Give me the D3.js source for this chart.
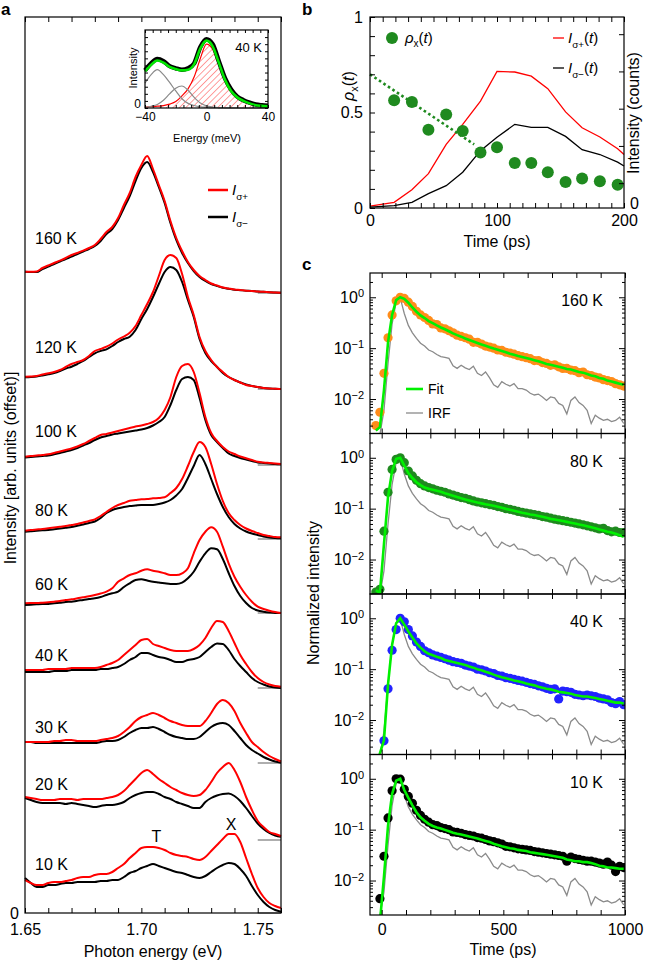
<!DOCTYPE html>
<html><head><meta charset="utf-8">
<script src="https://cdn.jsdelivr.net/npm/d3@7"></script>
<style>body{margin:0;background:#fff}svg{display:block}</style>
</head><body><svg id="fig" width="649" height="963"></svg>
<script>
// ---------------- DATA ----------------
// Panel a: spectra on a 2.5 meV grid from 1.65 to 1.76 eV (45 points), arbitrary units
const tempLabels = ["10 K","20 K","30 K","40 K","60 K","80 K","100 K","120 K","160 K"];
const tempOffsets = [0,73,150,225,300,374,448,524,620];
const spec10Plus  = [33,30,28,28,30,31,31,32,33,35,36,36,38,39,39,41,45,49,55,60,65,66,66,65,63,60,58,57,56,54,53,56,62,68,74,79,79,71,55,39,25,16,10,7,5];
const spec10Minus = [35,30,26,26,28,28,29,30,30,31,31,31,31,32,32,33,33,36,40,42,45,47,49,47,45,43,41,40,38,36,35,37,41,45,48,50,49,44,37,27,18,11,6,3,1.3];
const spec20Plus  = [43,42,41,40,40,40,41,41,41,40,41,41,41,41,42,43,45,49,55,61,67,70,66,61,57,53,50,47,45,44,45,50,58,67,73,77,70,58,43,30,19,13,8,6,4];
const spec20Minus = [42,40,38,37,37,37,37,36,37,36,35,34,33,34,35,35,36,38,42,45,47,48,48,46,43,41,38,36,34,32,32,38,42,44.5,46,46.5,44,39,32,24,16.5,11,7,4.5,3.3];
const spec30Plus  = [21,21,21,21,21,22,22,23,23,22,22,22,22,23,24,25,27,31,36,42,46,48,50,48,45,42,40,38,37,37,37,42,50,59,63,60,52,40,30,21,16,11,7,4,1.5];
const spec30Minus = [21,21,20,20,20,20,20,20,20,20,20,20,20,21,22,22,23,26,30,33,35,35,36,34,31,28,26,25,24,24,26,31,36,39,40,38,32,25,18,13,9.5,6,3.5,1.5,0.3];
const spec40Plus  = [18,18,18,18,19,19,19,19,20,20,20,20,20,21,23,25,28,33,38,43,48,49,44,42,40,38,37,37,37,39,43,50,60,67,66,57,45,33,24,16,10,6,3.5,2,1.3];
const spec40Minus = [16,16,16,16,16,17,17,17,18,18,18,18,18,19,19,20,21,24,28,31,35,35,33,31,30,28,26,26,28,29,31,36,41,44.5,44,38,29,22,16,10,6,3.5,1.5,0.5,0];
const spec60Plus  = [9.7,10,10,10.3,10.7,11.3,12,13,13.7,14.7,15.7,16.7,18,19.5,21.3,24.7,31.3,34.7,38,39.7,42.3,43.7,42.3,41.3,39.7,38,38,39.7,44.7,59.7,73,81.3,85.7,81.3,66.3,49.7,36.3,26.3,18,11.3,6.3,4,2.3,1,0];
const spec60Minus = [8,8.3,8.7,9,9,9.7,10.3,11,11.3,12.3,13,14,14.7,16,18,19.7,21.3,26,29.7,33,33.7,32.5,31.3,30.5,29.7,29,29,30.3,34.7,41.3,51.3,59.7,64.7,63.7,54,40,27,17,10,5,2.5,1.3,0.5,0,0];
const spec80Plus  = [8.3,9,9.5,10,10.7,11.5,12.3,13,14,15,16.5,18,19.7,23,27,31,34,36,38.3,39,39.7,40,40.7,41,41.7,46,51,60,73,87,97,92,75,55,38,26,19,14,10.5,8,6,4,3,2,1.7];
const spec80Minus = [7.3,7.8,8.3,8.7,9,9.7,10.5,11.3,12,13.3,14.5,16,17.5,21,26,29,30.7,32,33,33.5,34,34,34,35,36.5,39,43.5,50,61,73,84,75,60,45,32,22,15,10.5,7.5,5.5,4,2.5,1.5,1,0.7];
const spec100Plus  = [8.3,9,9.5,10,10.7,12,13.5,15,16.5,18.5,21,24,27,30,31,32.5,34,35.5,37,38.5,39.5,41,43,47,55,68,88,99,101,93,72,48,32,24,18,13.5,11,8.5,6.7,5,3.3,2.5,2,1.5,1];
const spec100Minus = [7.5,8,8.5,9,9.5,10.7,12,13.5,15,17,19.5,22,25,27.5,29,30.5,31.5,32.5,33.5,34.5,35.5,37,39.5,43,48,60,75,86,88,85,67,45,30,23,17,11.5,9,7,5.5,4,2.5,2,1.5,1,0.7];
const spec120Plus  = [12.3,12.5,13,14.5,15.7,17,19,22,25,27,29,33,38,40,42.3,45.5,49.5,52.5,56.3,63,74,85,97,113,129,134,131,115,92,74,52,38,29,22,17,12,9,6.5,4,3,2,1,0.5,0.3,0];
const spec120Minus = [11.7,12,12.5,13.5,14.7,16,18,20.5,22.3,25,28,32,35.7,38,39.7,43,47,50,52.3,59,70,80,92,105,117,122,119,107,89,72,50,36,28,22,16,12,9,6.5,4.5,3,2,1,0.5,0.3,0];
const spec160Plus  = [21.3,21.3,21.5,25,27.5,30,32.3,35,38,40,42.3,45,48,54,61,66,75,88,100,116,128,137,124,108,92,72,55,42,31,23,17,13,9.5,7.5,5.5,4.5,3.5,3,2.3,2,1.5,1.2,0.8,0.5,0.3];
const spec160Minus = [21.3,21,21,24,26.3,29,31.5,34,36.3,39,41.5,44,47,52,59,64,73,85,97,112,125,131,121,106,90,70,53,40,30,22,16,12,9,7,5.3,4.3,3.3,2.8,2.3,2,1.5,1.2,0.8,0.5,0.3];
const specPlus  = [spec10Plus,spec20Plus,spec30Plus,spec40Plus,spec60Plus,spec80Plus,spec100Plus,spec120Plus,spec160Plus];
const specMinus = [spec10Minus,spec20Minus,spec30Minus,spec40Minus,spec60Minus,spec80Minus,spec100Minus,spec120Minus,spec160Minus];
const energyTickLabels = [1.65, 1.70, 1.75];

// Inset (40 K fit), 4 meV grid from -40 to 40 meV
const insetData  = [0.53,0.63,0.69,0.66,0.59,0.56,0.54,0.56,0.63,0.86,0.97,0.9,0.66,0.42,0.26,0.16,0.11,0.075,0.05,0.038,0.03];
const insetFit   = [0.515,0.61,0.67,0.64,0.58,0.55,0.53,0.54,0.62,0.84,0.95,0.87,0.64,0.40,0.24,0.15,0.10,0.065,0.04,0.03,0.023];
const insetPeakT1 = [0.35,0.47,0.54,0.47,0.36,0.24,0.13,0.065,0.035,0.018,0.01,0.005,0.003,0.002,0.001,0,0,0,0,0,0];
const insetPeakT2 = [0.01,0.025,0.05,0.11,0.2,0.28,0.31,0.25,0.15,0.07,0.03,0.014,0.006,0.003,0.001,0,0,0,0,0,0];
const insetPeakX  = [0.014,0.02,0.026,0.034,0.055,0.09,0.17,0.27,0.44,0.7,0.9,0.83,0.61,0.4,0.26,0.17,0.113,0.075,0.053,0.04,0.033];

// Panel b
const rhoTimes  = [19,33,46,60,73,87,100,114,127,140,154,167,181,195];
const rhoValues = [0.564,0.555,0.41,0.49,0.403,0.29,0.318,0.236,0.236,0.187,0.136,0.154,0.14,0.122];
const rhoFitTimes  = [0, 82];
const rhoFitValues = [0.70, 0.333];
const intTimes = [0,19,33,46,60,73,87,100,114,127,140,154,167,181,195,200];
const intPlus  = [0.01,0.03,0.096,0.18,0.333,0.438,0.56,0.715,0.712,0.69,0.625,0.503,0.42,0.372,0.31,0.28];
const intMinus = [0.005,0.012,0.03,0.075,0.117,0.187,0.30,0.37,0.438,0.422,0.422,0.375,0.305,0.28,0.24,0.22];
const intensityTicks = [0.13,0.325,0.52,0.715,0.91];

// Panel c: time-resolved decays, 16.7 ps bins starting at -24 ps (62 points)
const irf = [0.0015,0.002,0.006,0.05,0.3,0.8,0.97,0.48,0.28,0.2,0.155,0.125,0.11,0.092,0.085,0.075,0.068,0.066,0.063,0.045,0.04,0.046,0.041,0.038,0.044,0.032,0.029,0.034,0.026,0.019,0.017,0.022,0.0195,0.018,0.02,0.016,0.016,0.015,0.013,0.012,0.0125,0.011,0.0094,0.011,0.0105,0.0082,0.0075,0.0051,0.0094,0.011,0.0085,0.0075,0.006,0.0033,0.0048,0.0042,0.0038,0.004,0.0036,0.0038,0.0044,0.0033];
const decay160 = [0.003,0.0055,0.032,0.16,0.45,0.85,1.0,0.95,0.8,0.66,0.53,0.45,0.40,0.35,0.30,0.29,0.25,0.24,0.22,0.20,0.18,0.17,0.16,0.15,0.13,0.13,0.12,0.11,0.105,0.10,0.092,0.09,0.083,0.08,0.076,0.071,0.068,0.065,0.062,0.057,0.057,0.052,0.05,0.046,0.047,0.043,0.040,0.040,0.037,0.036,0.033,0.034,0.030,0.029,0.027,0.026,0.024,0.023,0.022,0.020,0.019,0.018];
const fit160   = [0.0024,0.0028,0.015,0.13,0.45,0.88,1.0,0.93,0.78,0.63,0.52,0.44,0.39,0.34,0.31,0.28,0.255,0.235,0.215,0.195,0.18,0.168,0.155,0.145,0.135,0.126,0.118,0.111,0.104,0.098,0.093,0.088,0.083,0.078,0.074,0.070,0.067,0.064,0.061,0.058,0.055,0.052,0.049,0.047,0.045,0.043,0.041,0.039,0.038,0.036,0.034,0.033,0.031,0.029,0.028,0.026,0.025,0.023,0.022,0.021,0.020,0.019];
const decay80  = [0.0023,0.0026,0.036,0.21,0.59,0.93,1.0,0.8,0.55,0.44,0.36,0.31,0.28,0.26,0.245,0.23,0.22,0.21,0.195,0.185,0.175,0.165,0.16,0.15,0.142,0.135,0.13,0.125,0.12,0.116,0.11,0.106,0.1,0.097,0.093,0.088,0.085,0.082,0.079,0.076,0.074,0.07,0.068,0.065,0.062,0.06,0.058,0.056,0.054,0.052,0.05,0.048,0.046,0.044,0.042,0.04,0.041,0.037,0.035,0.036,0.034,0.034];
const fit80    = [0.0025,0.0022,0.02,0.17,0.55,0.95,1.0,0.7,0.5,0.4,0.33,0.29,0.26,0.245,0.235,0.225,0.215,0.2,0.19,0.18,0.17,0.16,0.152,0.145,0.138,0.132,0.127,0.122,0.118,0.114,0.109,0.104,0.099,0.095,0.091,0.087,0.083,0.080,0.077,0.075,0.072,0.069,0.066,0.063,0.061,0.059,0.057,0.055,0.053,0.051,0.049,0.047,0.045,0.043,0.041,0.039,0.037,0.035,0.034,0.032,0.030,0.028];
const decay40  = [0.0015,0.0012,0.0039,0.041,0.235,0.6,1.0,0.85,0.6,0.45,0.34,0.28,0.23,0.21,0.19,0.18,0.17,0.16,0.15,0.14,0.135,0.13,0.12,0.115,0.11,0.10,0.097,0.092,0.085,0.082,0.075,0.073,0.068,0.066,0.063,0.06,0.058,0.055,0.052,0.05,0.047,0.045,0.042,0.04,0.041,0.026,0.037,0.036,0.035,0.032,0.031,0.03,0.031,0.03,0.029,0.027,0.026,0.025,0.022,0.021,0.023,0.02];
const fit40    = [0.0015,0.0022,0.004,0.05,0.3,0.8,1.0,0.75,0.55,0.42,0.32,0.265,0.225,0.2,0.188,0.175,0.165,0.152,0.145,0.138,0.132,0.126,0.12,0.113,0.107,0.1,0.095,0.089,0.084,0.078,0.073,0.069,0.066,0.063,0.06,0.058,0.055,0.052,0.05,0.048,0.045,0.043,0.041,0.04,0.038,0.036,0.035,0.034,0.033,0.031,0.030,0.029,0.029,0.028,0.027,0.026,0.025,0.024,0.023,0.022,0.022,0.021];
const decay10  = [0.0013,0.0044,0.03,0.17,0.58,1.0,0.98,0.62,0.45,0.33,0.24,0.19,0.16,0.14,0.125,0.12,0.11,0.105,0.1,0.09,0.088,0.085,0.08,0.077,0.075,0.07,0.068,0.064,0.06,0.058,0.055,0.052,0.047,0.046,0.044,0.042,0.041,0.04,0.039,0.037,0.036,0.035,0.034,0.033,0.032,0.031,0.03,0.024,0.029,0.027,0.026,0.025,0.024,0.024,0.023,0.022,0.021,0.023,0.02,0.015,0.019,0.018];
const fit10    = [0.0012,0.0015,0.012,0.12,0.5,0.92,1.0,0.6,0.42,0.3,0.22,0.175,0.15,0.13,0.118,0.11,0.105,0.099,0.093,0.087,0.083,0.08,0.077,0.073,0.07,0.067,0.063,0.06,0.057,0.053,0.05,0.047,0.045,0.043,0.042,0.04,0.039,0.038,0.036,0.035,0.034,0.033,0.032,0.031,0.030,0.029,0.028,0.026,0.025,0.024,0.024,0.023,0.023,0.022,0.021,0.0195,0.019,0.018,0.018,0.0175,0.017,0.017];
const decayLabels = ["160 K","80 K","40 K","10 K"];
const decayColors = ["#ff8c1a","#1f8a1f","#2323ff","#000000"];
const decayData = [decay160, decay80, decay40, decay10];
const decayFits = [fit160, fit80, fit40, fit10];
const timeTickLabels = [0, 500, 1000];

// ---------------- DRAWING ----------------
const FONT = "'Liberation Sans', Arial, Helvetica, sans-serif";
const svg = d3.select('#fig').style('font-family', FONT);
svg.append('rect').attr('width',649).attr('height',963).attr('fill','#fff');
const defs = svg.append('defs');

function cleanAxis(g, size){
  g.attr('font-family', FONT).attr('font-size', size || 16);
  g.select('.domain').remove();
  g.selectAll('.tick line').attr('stroke','#000').attr('stroke-width',1);
  g.selectAll('.tick text').attr('fill','#000');
  return g;
}
function boxRect(g, x0, y0, x1, y1){
  g.append('rect').attr('x',x0).attr('y',y0).attr('width',x1-x0).attr('height',y1-y0)
    .attr('fill','none').attr('stroke','#000').attr('stroke-width',1.2);
}
function label(g, x, y, txt, opts){
  opts = opts || {};
  const t = g.append('text').attr('x',x).attr('y',y).attr('font-size',opts.size||16)
    .attr('text-anchor',opts.anchor||'start').attr('fill',opts.fill||'#000').text(txt);
  if (opts.bold) t.attr('font-weight','bold');
  if (opts.rotate) t.attr('transform',`rotate(-90,${x},${y})`);
  return t;
}

// ===== Panel a =====
const gA = svg.append('g');
const xA = d3.scaleLinear().domain([1.65,1.76]).range([25,281]);
const yA = d3.scaleLinear().domain([0,896]).range([913,17]);
const energies = d3.range(45).map(i => 1.65 + 0.0025*i);
label(gA, 1, 15, 'a', {bold:true, size:17});

tempOffsets.forEach((off, k) => {
  gA.append('line').attr('x1',xA(1.75)).attr('x2',xA(1.76))
    .attr('y1',yA(off)).attr('y2',yA(off)).attr('stroke','#9a9a9a').attr('stroke-width',1.6);
});
const lineA = off => d3.line().x((d,i)=>xA(energies[i])).y(d=>yA(off+d)).curve(d3.curveMonotoneX);
tempOffsets.forEach((off, k) => {
  gA.append('path').attr('d', lineA(off)(specMinus[k])).attr('fill','none').attr('stroke','#000').attr('stroke-width',2);
  gA.append('path').attr('d', lineA(off)(specPlus[k])).attr('fill','none').attr('stroke','#ff0000').attr('stroke-width',2);
  const top = d3.max(specPlus[k].slice(0,11));
  label(gA, 35, yA(off+top) - 7, tempLabels[k]);
});
// peak labels T and X on the 10 K curve
label(gA, xA(1.7065), yA(d3.max(spec10Plus.slice(20,24))) - 5, 'T', {anchor:'middle'});
label(gA, xA(1.7385), yA(d3.max(spec10Plus.slice(34,38))) - 4, 'X', {anchor:'middle'});

// axes
cleanAxis(gA.append('g').attr('transform','translate(0,913)')
  .call(d3.axisBottom(xA).tickValues(d3.range(0,12).map(i=>1.65+0.01*i)).tickSize(-5).tickPadding(11)
  .tickFormat(d => energyTickLabels.some(v=>Math.abs(v-d)<1e-6) ? d3.format('.2f')(d) : '')));
cleanAxis(gA.append('g').attr('transform','translate(0,17)')
  .call(d3.axisTop(xA).tickValues(d3.range(0,12).map(i=>1.65+0.01*i)).tickSize(-5).tickFormat('')));
boxRect(gA, 25, 17, 281, 913);
label(gA, 19, 919, '0', {anchor:'end'});
label(gA, 153, 957, 'Photon energy (eV)', {anchor:'middle'});
label(gA, 16, 468, 'Intensity [arb. units (offset)]', {anchor:'middle', rotate:true});

// legend a
function iSigma(g, x, y, sub, size, withT){
  const t = g.append('text').attr('x',x).attr('y',y).attr('font-size',size).attr('fill','#000');
  t.append('tspan').attr('font-style','italic').text('I');
  t.append('tspan').attr('font-size',size*0.66).attr('dy',size*0.3).text(sub);
  if (withT){
    t.append('tspan').attr('dy',-size*0.3).text('(');
    t.append('tspan').attr('font-style','italic').text('t');
    t.append('tspan').text(')');
  }
}
gA.append('line').attr('x1',208).attr('x2',228).attr('y1',190).attr('y2',190).attr('stroke','#ff0000').attr('stroke-width',2.5);
iSigma(gA, 232, 195, 'σ+', 15, false);
gA.append('line').attr('x1',208).attr('x2',228).attr('y1',217).attr('y2',217).attr('stroke','#000').attr('stroke-width',2.5);
iSigma(gA, 232, 222, 'σ−', 15, false);

// ===== Inset =====
const gI = svg.append('g');
const xI = d3.scaleLinear().domain([-40,40]).range([145,268]);
const yI = d3.scaleLinear().domain([0,1.1]).range([108,30]);
const insetE = d3.range(21).map(i => -40 + 4*i);
gI.append('rect').attr('x',145).attr('y',30).attr('width',123).attr('height',78).attr('fill','#fff');
const pat = defs.append('pattern').attr('id','hatch').attr('patternUnits','userSpaceOnUse')
  .attr('width',4.5).attr('height',4.5).attr('patternTransform','rotate(45)');
pat.append('line').attr('x1',0).attr('y1',0).attr('x2',0).attr('y2',4.5).attr('stroke','#ff2a2a').attr('stroke-width',0.9);
const cI = d3.curveMonotoneX;
gI.append('path').attr('d', d3.area().x((d,i)=>xI(insetE[i])).y0(yI(0)).y1(d=>yI(d)).curve(cI)(insetPeakX))
  .attr('fill','url(#hatch)');
const lineI = d3.line().x((d,i)=>xI(insetE[i])).y(d=>yI(d)).curve(cI);
gI.append('path').attr('d', lineI(insetPeakX)).attr('fill','none').attr('stroke','#ff0000').attr('stroke-width',1.2);
gI.append('path').attr('d', lineI(insetPeakT1)).attr('fill','none').attr('stroke','#8a8a8a').attr('stroke-width',1.2);
gI.append('path').attr('d', lineI(insetPeakT2)).attr('fill','none').attr('stroke','#8a8a8a').attr('stroke-width',1.2);
gI.append('path').attr('d', lineI(insetData)).attr('fill','none').attr('stroke','#000').attr('stroke-width',4.5);
gI.append('path').attr('d', lineI(insetFit)).attr('fill','none').attr('stroke','#00e600').attr('stroke-width',2.6);
const iTicks = d3.range(-40,41,5);
cleanAxis(gI.append('g').attr('transform','translate(0,108)')
  .call(d3.axisBottom(xI).tickValues(iTicks).tickSize(-3).tickPadding(4)
  .tickFormat(d => (d===-40||d===0||d===40) ? (d<0?'\u2212'+(-d):d) : '')), 12);
cleanAxis(gI.append('g').attr('transform','translate(0,30)')
  .call(d3.axisTop(xI).tickValues(iTicks).tickSize(-3).tickFormat('')), 12);
const yITicks = d3.range(0,11).map(i=>i*0.1);
cleanAxis(gI.append('g').attr('transform','translate(145,0)')
  .call(d3.axisLeft(yI).tickValues(yITicks).tickSize(-3).tickFormat('')), 12);
cleanAxis(gI.append('g').attr('transform','translate(268,0)')
  .call(d3.axisRight(yI).tickValues(yITicks).tickSize(-3).tickFormat('')), 12);
boxRect(gI, 145, 30, 268, 108);
label(gI, 141, 108, '0', {anchor:'end', size:12});
label(gI, 207, 142, 'Energy (meV)', {anchor:'middle', size:11});
label(gI, 137, 68, 'Intensity', {anchor:'middle', size:11, rotate:true});
label(gI, 262, 52, '40 K', {anchor:'end', size:13});

// ===== Panel b =====
const gB = svg.append('g');
const xB = d3.scaleLinear().domain([0,200]).range([370,624]);
const yB = d3.scaleLinear().domain([0,1]).range([208,17]);
label(gB, 302, 15, 'b', {bold:true, size:17});
const lineB = d3.line().x(d=>xB(d[0])).y(d=>yB(d[1]));
gB.append('path').attr('d', lineB(intTimes.map((t,i)=>[t,intPlus[i]]))).attr('fill','none').attr('stroke','#ff0000').attr('stroke-width',1.3);
gB.append('path').attr('d', lineB(intTimes.map((t,i)=>[t,intMinus[i]]))).attr('fill','none').attr('stroke','#000').attr('stroke-width',1.3);
gB.append('path').attr('d', lineB(rhoFitTimes.map((t,i)=>[t,rhoFitValues[i]]))).attr('fill','none')
  .attr('stroke','#1f8a1f').attr('stroke-width',2.6).attr('stroke-dasharray','2.6 2.8');
gB.selectAll('circle.rho').data(rhoTimes.map((t,i)=>[t,rhoValues[i]])).enter().append('circle')
  .attr('cx',d=>xB(d[0])).attr('cy',d=>yB(d[1])).attr('r',6).attr('fill','#1f8a1f');
const bxTicks = d3.range(0,201,10);
cleanAxis(gB.append('g').attr('transform','translate(0,208)')
  .call(d3.axisBottom(xB).tickValues(bxTicks).tickSize(-5).tickPadding(7).tickFormat(d => d%100===0 ? d : '')));
cleanAxis(gB.append('g').attr('transform','translate(0,17)')
  .call(d3.axisTop(xB).tickValues(bxTicks).tickSize(-5).tickFormat('')));
cleanAxis(gB.append('g').attr('transform','translate(370,0)')
  .call(d3.axisLeft(yB).tickValues(d3.range(0,11).map(i=>i/10)).tickSize(-5).tickPadding(7)
  .tickFormat(d => d===0?'0':(Math.abs(d-0.5)<1e-9?'0.5':(d===1?'1':'')))));
cleanAxis(gB.append('g').attr('transform','translate(624,0)')
  .call(d3.axisRight(yB).tickValues(intensityTicks).tickSize(-5).tickFormat('')));
boxRect(gB, 370, 17, 624, 208);
label(gB, 630, 209, '0');
label(gB, 497, 247, 'Time (ps)', {anchor:'middle'});
// rotated titles
(function(){
  const t = gB.append('text').attr('x',354).attr('y',86).attr('font-size',16).attr('text-anchor','middle')
    .attr('transform','rotate(-90,354,86)');
  t.append('tspan').attr('font-style','italic').text('ρ');
  t.append('tspan').attr('font-size',11).attr('dy',4).text('x');
  t.append('tspan').attr('dy',-4).text('(');
  t.append('tspan').attr('font-style','italic').text('t');
  t.append('tspan').text(')');
})();
label(gB, 639, 113, 'Intensity (counts)', {anchor:'middle', rotate:true});
// legend b
gB.append('circle').attr('cx',392).attr('cy',38).attr('r',6).attr('fill','#1f8a1f');
(function(){
  const t = gB.append('text').attr('x',405).attr('y',43).attr('font-size',15);
  t.append('tspan').attr('font-style','italic').text('ρ');
  t.append('tspan').attr('font-size',10).attr('dy',4).text('x');
  t.append('tspan').attr('dy',-4).text('(');
  t.append('tspan').attr('font-style','italic').text('t');
  t.append('tspan').text(')');
})();
gB.append('line').attr('x1',553).attr('x2',564).attr('y1',38).attr('y2',38).attr('stroke','#ff0000').attr('stroke-width',1.3);
iSigma(gB, 568, 43, 'σ+', 15, true);
gB.append('line').attr('x1',553).attr('x2',564).attr('y1',68).attr('y2',68).attr('stroke','#000').attr('stroke-width',1.3);
iSigma(gB, 568, 73, 'σ−', 15, true);

// ===== Panel c =====
const gC = svg.append('g');
label(gC, 302, 270, 'c', {bold:true, size:17});
const xC = d3.scaleLinear().domain([-48,1000]).range([370,625]);
const times = d3.range(62).map(i => -24 + 16.7*i);
const subH = 160.5;
const majorLog = [1, 0.1, 0.01];
const minorLog = [];
[0.001,0.01,0.1,1].forEach(dec => d3.range(2,10).forEach(m => { const v = dec*m; if (v>0.0021 && v<3) minorLog.push(v); }));
const cxTicks = d3.range(0,1001,100);
decayData.forEach((dots, k) => {
  const top = 273 + k*subH, bot = top + subH;
  const yC = d3.scaleLog().domain([0.0021, 3]).range([bot, top]);
  const clipId = 'clipc'+k;
  defs.append('clipPath').attr('id',clipId).append('rect').attr('x',370).attr('y',top).attr('width',255).attr('height',subH);
  const g = gC.append('g');
  const inner = g.append('g').attr('clip-path',`url(#${clipId})`);
  const lineC = d3.line().x((d,i)=>xC(times[i])).y(d=>yC(d));
  inner.append('path').attr('d', lineC(irf)).attr('fill','none').attr('stroke','#8a8a8a').attr('stroke-width',1.3);
  inner.selectAll('circle').data(dots).enter().append('circle')
    .attr('cx',(d,i)=>xC(times[i])).attr('cy',d=>yC(d)).attr('r',4.6).attr('fill',decayColors[k]);
  inner.append('path').attr('d', lineC(decayFits[k])).attr('fill','none').attr('stroke','#00f000').attr('stroke-width',2.6);
  // axes
  cleanAxis(g.append('g').attr('transform',`translate(0,${bot})`)
    .call(d3.axisBottom(xC).tickValues(cxTicks).tickSize(-5).tickPadding(9)
    .tickFormat(d => (k===3 && timeTickLabels.includes(d)) ? d : '')));
  cleanAxis(g.append('g').attr('transform',`translate(0,${top})`)
    .call(d3.axisTop(xC).tickValues(cxTicks).tickSize(-5).tickFormat('')));
  const la = cleanAxis(g.append('g').attr('transform','translate(370,0)')
    .call(d3.axisLeft(yC).tickValues(majorLog).tickSize(-6).tickPadding(6)));
  la.selectAll('.tick text').each(function(d){
    const e = Math.round(Math.log10(d));
    const t = d3.select(this).text('10');
    t.append('tspan').attr('dy','-0.5em').attr('font-size',11).text(e===0 ? '0' : '\u2212'+(-e));
  });
  cleanAxis(g.append('g').attr('transform','translate(370,0)')
    .call(d3.axisLeft(yC).tickValues(minorLog).tickSize(-3).tickFormat('')));
  cleanAxis(g.append('g').attr('transform','translate(625,0)')
    .call(d3.axisRight(yC).tickValues(majorLog).tickSize(-6).tickFormat('')));
  cleanAxis(g.append('g').attr('transform','translate(625,0)')
    .call(d3.axisRight(yC).tickValues(minorLog).tickSize(-3).tickFormat('')));
  boxRect(g, 370, top, 625, bot);
  label(g, 603, yC(1) + 9, decayLabels[k], {anchor:'end'});
});
// legend c
gC.append('line').attr('x1',406).attr('x2',423).attr('y1',389).attr('y2',389).attr('stroke','#00f000').attr('stroke-width',2.6);
label(gC, 428, 394, 'Fit', {size:14});
gC.append('line').attr('x1',406).attr('x2',423).attr('y1',413).attr('y2',413).attr('stroke','#8a8a8a').attr('stroke-width',1.3);
label(gC, 428, 418, 'IRF', {size:14});
label(gC, 503, 955, 'Time (ps)', {anchor:'middle'});
label(gC, 319, 593, 'Normalized intensity', {anchor:'middle', rotate:true});
</script>
</body></html>
